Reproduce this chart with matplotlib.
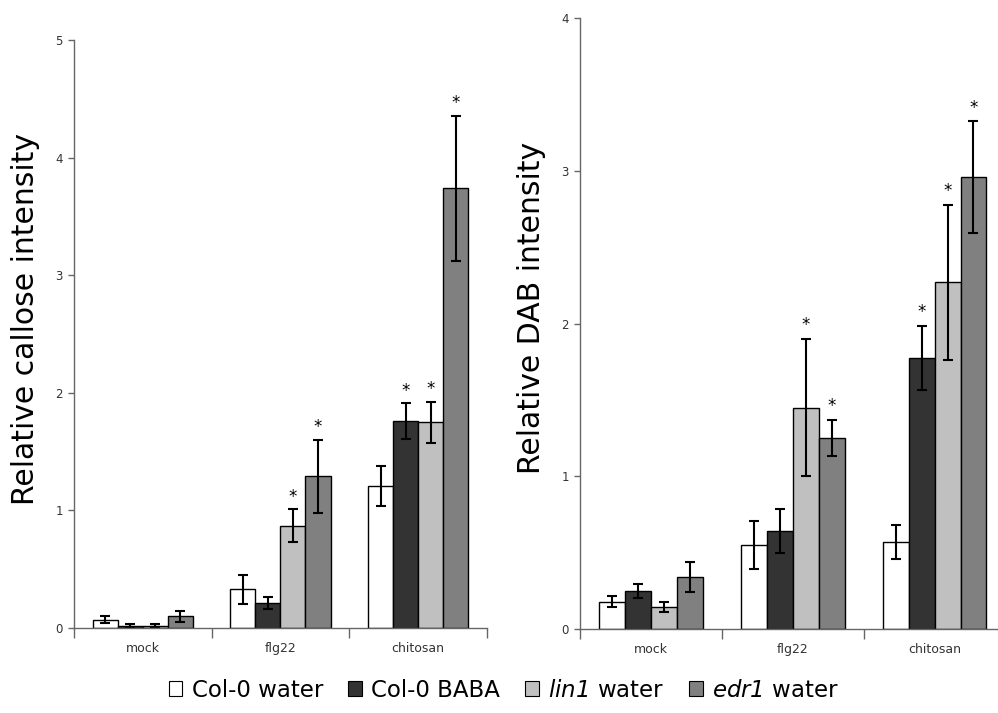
import numpy as np
import matplotlib.pyplot as plt
from matplotlib.patches import Patch

# italic gene names (digits included) through mathtext's rm slot
plt.rcParams['mathtext.fontset'] = 'custom'
plt.rcParams['mathtext.rm'] = 'DejaVu Sans:italic'

treatments = ['mock', 'flg22', 'chitosan']
lines = ['Col-0 water', 'Col-0 BABA', r'$\mathrm{lin1}$ water', r'$\mathrm{edr1}$ water']
colors = ['#ffffff', '#333333', '#c0c0c0', '#808080']

# callose (rows = lines, cols = treatments)
callose = [[0.07, 0.33, 1.21],
           [0.02, 0.21, 1.76],
           [0.02, 0.87, 1.75],
           [0.10, 1.29, 3.74]]
callose_err = [[0.03, 0.125, 0.17],
               [0.01, 0.05, 0.15],
               [0.01, 0.14, 0.175],
               [0.045, 0.31, 0.615]]
callose_sig = [[False, False, False],
               [False, False, True],
               [False, True, True],
               [False, True, True]]

# DAB
dab = [[0.18, 0.55, 0.57],
       [0.25, 0.64, 1.775],
       [0.145, 1.45, 2.27],
       [0.34, 1.25, 2.96]]
dab_err = [[0.037, 0.16, 0.11],
           [0.047, 0.143, 0.21],
           [0.032, 0.45, 0.51],
           [0.10, 0.12, 0.365]]
dab_sig = [[False, False, False],
           [False, False, True],
           [False, True, True],
           [False, True, True]]


def bar_panel(ax, vals, errs, sig, ymax, ylabel, label_y, star_gap):
    w = 0.182
    x = np.arange(len(treatments))
    for i in range(len(lines)):
        pos = x + (i - 1.5) * w
        ax.bar(pos, vals[i], w, color=colors[i], edgecolor='black', linewidth=1.0)
        ax.errorbar(pos, vals[i], yerr=errs[i], fmt='none', ecolor='black',
                    elinewidth=1.5, capsize=3.8, capthick=1.5)
        for j in range(len(treatments)):
            if sig[i][j]:
                ax.text(pos[j], vals[i][j] + errs[i][j] + star_gap, '*',
                        ha='center', va='bottom', fontsize=12)
    ax.set_xlim(-0.5, len(treatments) - 0.5)
    ax.set_ylim(0, ymax)
    ax.set_yticks(range(ymax + 1))
    ax.set_xticks(x)
    ax.set_xticklabels(treatments, fontsize=9, color='#333333')
    ax.tick_params(axis='x', length=0, pad=10)
    # group boundary ticks below the axis
    ax.set_xticks(np.arange(-0.5, len(treatments)), minor=True)
    ax.tick_params(axis='x', which='minor', length=7, width=1, color='#666666')
    ax.tick_params(axis='y', length=4, width=1, color='#666666', labelsize=8.5,
                   labelcolor='#333333', pad=4)
    for s in ['top', 'right']:
        ax.spines[s].set_visible(False)
    for s in ['left', 'bottom']:
        ax.spines[s].set_color('#666666')
        ax.spines[s].set_linewidth(1.0)
    ax.set_ylabel(ylabel, fontsize=21.5, labelpad=11, y=label_y)


fig = plt.figure(figsize=(9.98, 7.13), dpi=100)
ax1 = fig.add_axes([0.0741, 0.1192, 0.4138, 0.8247])
ax2 = fig.add_axes([0.5812, 0.1178, 0.4265, 0.8565])

bar_panel(ax1, callose, callose_err, callose_sig, 5, 'Relative callose intensity', 0.526, 0.03)
bar_panel(ax2, dab, dab_err, dab_sig, 4, 'Relative DAB intensity', 0.525, 0.03)

handles = [Patch(facecolor=c, edgecolor='black', linewidth=0.8) for c in colors]
fig.legend(handles, lines, loc='center', bbox_to_anchor=(0.505, 0.032), ncol=4,
           frameon=False, fontsize=16.5, handlelength=0.6, handleheight=0.6,
           handletextpad=0.4, columnspacing=1.1)

fig.savefig('out.png', dpi=100)
